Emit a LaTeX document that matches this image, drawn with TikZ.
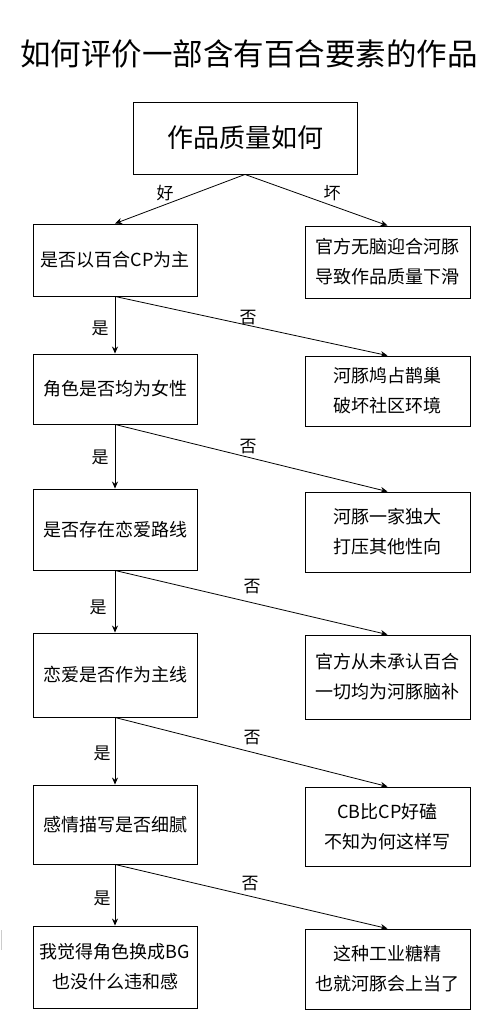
\documentclass[tikz,border=0pt]{standalone}
\usepackage{fontspec}
\setmainfont{Noto Sans CJK SC}
\usetikzlibrary{arrows.meta}
\begin{document}
\begin{tikzpicture}[x=1pt,y=-1pt,
 box/.style={draw,line width=0.9pt,inner sep=0pt,align=center,font=\fontsize{18}{30}\selectfont},
 lbox/.style={box,minimum width=164pt},
 rbox/.style={box,minimum width=165pt},
 arr/.style={-{Stealth[length=7pt,width=6pt]},line width=0.8pt},
 lab/.style={font=\fontsize{17}{17}\selectfont}]
\useasboundingbox (0,0) rectangle (498,1012);
\node[font=\fontsize{30.5}{30}\selectfont] (title) at (249,54) {如何评价一部含有百合要素的作品};
\node[box,minimum width=224pt,minimum height=72pt,font=\fontsize{26}{26}\selectfont] (top) at (245,138) {作品质量如何};
% left column
\node[lbox,minimum height=72pt] (L1) at (115,260) {是否以百合CP为主};
\node[lbox,minimum height=70pt] (L2) at (115,389) {角色是否均为女性};
\node[lbox,minimum height=81pt] (L3) at (115,529.5) {是否存在恋爱路线};
\node[lbox,minimum height=84pt] (L4) at (115,675) {恋爱是否作为主线};
\node[lbox,minimum height=79pt] (L5) at (115,824.5) {感情描写是否细腻};
\node[lbox,minimum height=82pt] (L6) at (115,967) {我觉得角色换成BG\\也没什么违和感};
% right column
\node[rbox,minimum height=72pt] (R1) at (387.5,262) {官方无脑迎合河豚\\导致作品质量下滑};
\node[rbox,minimum height=70pt] (R2) at (387.5,391) {河豚鸠占鹊巢\\破坏社区环境};
\node[rbox,minimum height=80pt] (R3) at (387.5,532) {河豚一家独大\\打压其他性向};
\node[rbox,minimum height=84pt] (R4) at (387.5,677) {官方从未承认百合\\一切均为河豚脑补};
\node[rbox,minimum height=79pt] (R5) at (387.5,826.5) {CB比CP好磕\\不知为何这样写};
\node[rbox,minimum height=80pt] (R6) at (387.5,969) {这种工业糖精\\也就河豚会上当了};
% connectors
\draw[arr] (top.south) -- (L1.north);
\draw[arr] (top.south) -- (R1.north);
\node[lab] (lgood) at (165,193) {好};
\node[lab] (lbad) at (332,193) {坏};
\draw[arr] (L1.south) -- (L2.north);
\draw[arr] (L1.south) -- (R2.north);
\node[lab] (y1) at (100,328) {是};
\node[lab] (n1) at (248,318) {否};
\draw[arr] (L2.south) -- (L3.north);
\draw[arr] (L2.south) -- (R3.north);
\node[lab] (y2) at (100,457) {是};
\node[lab] (n2) at (248,447) {否};
\draw[arr] (L3.south) -- (L4.north);
\draw[arr] (L3.south) -- (R4.north);
\node[lab] (y3) at (98,607) {是};
\node[lab] (n3) at (252,587) {否};
\draw[arr] (L4.south) -- (L5.north);
\draw[arr] (L4.south) -- (R5.north);
\node[lab] (y4) at (102,753) {是};
\node[lab] (n4) at (252,738) {否};
\draw[arr] (L5.south) -- (L6.north);
\draw[arr] (L5.south) -- (R6.north);
\node[lab] (y5) at (102,898) {是};
\node[lab] (n5) at (250,884) {否};
\draw[gray!40,line width=0.8pt] (1,930) -- (1,950);
\end{tikzpicture}
\end{document}
